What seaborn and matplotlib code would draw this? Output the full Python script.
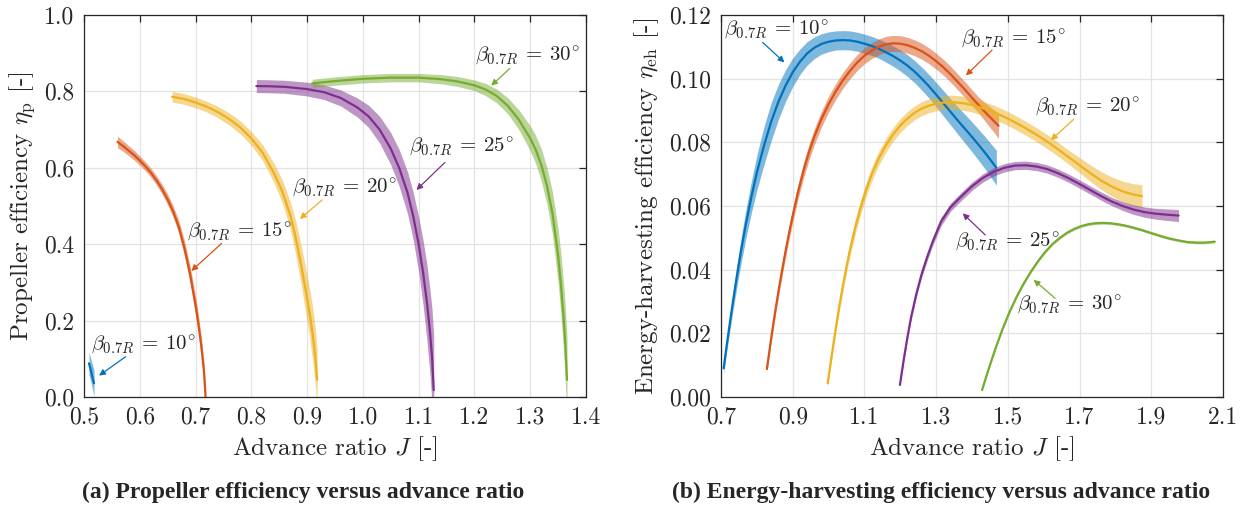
import numpy as np
import pandas as pd
import matplotlib
matplotlib.use("Agg")
import matplotlib.pyplot as plt
import seaborn as sns

# ---------------- data ----------------
pitch_labels = ["10", "15", "20", "25", "30"]
colors = ["#0072BD", "#D95319", "#EDB120", "#7E2F8E", "#77AC30"]

# (a) propeller efficiency eta_p vs J, with half-width of shaded band
J_p10 = [0.509, 0.5135, 0.518]
eta_p10 = [0.088, 0.062, 0.036]
h_p10 = [0.03, 0.03, 0.035]

J_p15 = [0.56, 0.57, 0.58, 0.59, 0.60, 0.61, 0.62, 0.63, 0.64, 0.65, 0.66, 0.67, 0.68, 0.69, 0.70, 0.705, 0.71, 0.715, 0.718]
eta_p15 = [0.668, 0.657, 0.645, 0.633, 0.619, 0.604, 0.587, 0.567, 0.544, 0.517, 0.485, 0.445, 0.390, 0.323, 0.240, 0.192, 0.137, 0.068, 0.0]
h_p15 = [0.015, 0.014, 0.013, 0.013, 0.012, 0.012, 0.012, 0.012, 0.013, 0.014, 0.015, 0.017, 0.02, 0.022, 0.024, 0.025, 0.025, 0.025, 0.025]

J_p20 = [0.658, 0.68, 0.70, 0.72, 0.74, 0.76, 0.78, 0.80, 0.82, 0.84, 0.855, 0.87, 0.88, 0.89, 0.90, 0.905, 0.91, 0.915, 0.918]
eta_p20 = [0.786, 0.780, 0.771, 0.760, 0.746, 0.728, 0.706, 0.677, 0.640, 0.588, 0.540, 0.475, 0.414, 0.340, 0.258, 0.215, 0.165, 0.100, 0.045]
h_p20 = [0.014, 0.014, 0.014, 0.014, 0.015, 0.016, 0.017, 0.018, 0.021, 0.025, 0.03, 0.036, 0.045, 0.052, 0.06, 0.065, 0.07, 0.075, 0.08]

J_p25 = [0.809, 0.83, 0.86, 0.90, 0.93, 0.96, 0.99, 1.01, 1.03, 1.05, 1.065, 1.08, 1.09, 1.10, 1.108, 1.115, 1.12, 1.124, 1.127]
eta_p25 = [0.814, 0.8135, 0.812, 0.806, 0.798, 0.783, 0.758, 0.735, 0.700, 0.650, 0.600, 0.535, 0.475, 0.400, 0.325, 0.245, 0.175, 0.105, 0.018]
h_p25 = [0.017, 0.017, 0.017, 0.018, 0.019, 0.021, 0.025, 0.029, 0.035, 0.042, 0.048, 0.055, 0.062, 0.072, 0.085, 0.10, 0.11, 0.125, 0.14]

J_p30 = [0.909, 0.95, 1.00, 1.05, 1.10, 1.14, 1.17, 1.20, 1.22, 1.24, 1.26, 1.28, 1.30, 1.31, 1.32, 1.33, 1.34, 1.35, 1.355, 1.36, 1.363, 1.366]
eta_p30 = [0.821, 0.827, 0.833, 0.836, 0.836, 0.832, 0.826, 0.816, 0.805, 0.788, 0.762, 0.725, 0.677, 0.647, 0.607, 0.553, 0.480, 0.370, 0.295, 0.205, 0.135, 0.045]
h_p30 = [0.011, 0.011, 0.011, 0.011, 0.011, 0.012, 0.013, 0.014, 0.016, 0.018, 0.021, 0.026, 0.033, 0.037, 0.042, 0.048, 0.056, 0.07, 0.08, 0.09, 0.10, 0.11]

# (b) energy-harvesting efficiency eta_eh vs J
J_e10 = [0.7074, 0.715, 0.725, 0.735, 0.745, 0.756, 0.77, 0.785, 0.80, 0.82, 0.84, 0.86, 0.88, 0.90, 0.92, 0.94, 0.96, 0.98, 1.00, 1.02, 1.04,
         1.06, 1.08, 1.10, 1.12, 1.14, 1.16, 1.18, 1.20, 1.22, 1.24, 1.26, 1.28, 1.30, 1.32, 1.34, 1.36, 1.38, 1.40, 1.42, 1.44, 1.468]
eta_e10 = [0.009, 0.0155, 0.0235, 0.0312, 0.0385, 0.0460, 0.0547, 0.0630, 0.0705, 0.0790, 0.0865, 0.0927, 0.0978, 0.1020, 0.1053, 0.1079,
           0.1097, 0.1109, 0.1116, 0.1120, 0.1121, 0.1120, 0.1116, 0.1110, 0.1103, 0.1094, 0.1083, 0.1071, 0.1057, 0.1041, 0.1022, 0.1000,
           0.0976, 0.0950, 0.0923, 0.0896, 0.0869, 0.0843, 0.0817, 0.0790, 0.0762, 0.0720]
h_e10 = [0.0015, 0.002, 0.0025, 0.003, 0.0035, 0.004, 0.0045, 0.005, 0.0055, 0.006, 0.006, 0.0055, 0.005, 0.0045, 0.004, 0.0037, 0.0034,
         0.0032, 0.0031, 0.003, 0.003, 0.003, 0.003, 0.003, 0.003, 0.003, 0.0031, 0.0032, 0.0033, 0.0034, 0.0035, 0.0036, 0.0037, 0.0038,
         0.004, 0.0041, 0.0043, 0.0045, 0.0047, 0.0049, 0.0051, 0.0055]

J_e15 = [0.828, 0.84, 0.85, 0.86, 0.87, 0.88, 0.89, 0.90, 0.915, 0.93, 0.945, 0.96, 0.98, 1.00, 1.02, 1.04, 1.06, 1.08, 1.10, 1.12, 1.14,
         1.16, 1.18, 1.20, 1.22, 1.24, 1.26, 1.28, 1.30, 1.32, 1.34, 1.36, 1.38, 1.40, 1.42, 1.44, 1.46, 1.474]
eta_e15 = [0.0088, 0.0185, 0.026, 0.033, 0.0396, 0.0458, 0.0516, 0.057, 0.0645, 0.0711, 0.0768, 0.0817, 0.0873, 0.092, 0.096, 0.0995,
           0.1025, 0.1051, 0.1072, 0.1088, 0.11, 0.1108, 0.1111, 0.111, 0.1105, 0.1097, 0.1086, 0.1072, 0.1055, 0.1036, 0.1014, 0.099,
           0.0966, 0.094, 0.0915, 0.0891, 0.0868, 0.0852]
h_e15 = [0.001, 0.0013, 0.0015, 0.0017, 0.0019, 0.002, 0.0021, 0.0022, 0.0023, 0.0024, 0.0025] + [0.0025] * 24 + [0.003, 0.0035, 0.004]

J_e20 = [0.9975, 1.01, 1.02, 1.03, 1.04, 1.05, 1.06, 1.075, 1.09, 1.105, 1.12, 1.14, 1.16, 1.18, 1.20, 1.22, 1.24, 1.26, 1.28, 1.30, 1.32,
         1.34, 1.36, 1.38, 1.40, 1.43, 1.46, 1.49, 1.52, 1.55, 1.58, 1.61, 1.64, 1.67, 1.70, 1.73, 1.76, 1.79, 1.82, 1.85, 1.874]
eta_e20 = [0.0043, 0.014, 0.0215, 0.0286, 0.035, 0.041, 0.0464, 0.0536, 0.0598, 0.0652, 0.0699, 0.075, 0.0791, 0.0825, 0.0853, 0.0875,
           0.0893, 0.0906, 0.0915, 0.0921, 0.0925, 0.0926, 0.0925, 0.0922, 0.0917, 0.0907, 0.0895, 0.088, 0.0863, 0.0844, 0.0824, 0.0802,
           0.0778, 0.0753, 0.0728, 0.0703, 0.068, 0.0661, 0.0646, 0.0636, 0.0631]
h_e20 = [0.001, 0.0013, 0.0015, 0.0017, 0.0019, 0.002, 0.0021] + [0.0022] * 27 + [0.0024, 0.0026, 0.0028, 0.003, 0.0032, 0.0034, 0.0036]

J_e25 = [1.199, 1.21, 1.22, 1.23, 1.245, 1.26, 1.275, 1.29, 1.3136, 1.34, 1.37, 1.40, 1.43, 1.46, 1.49, 1.52, 1.55, 1.58, 1.61, 1.64,
         1.67, 1.70, 1.73, 1.76, 1.79, 1.82, 1.85, 1.88, 1.91, 1.94, 1.976]
eta_e25 = [0.0038, 0.012, 0.0188, 0.025, 0.0325, 0.0388, 0.044, 0.0487, 0.0551, 0.0596, 0.063, 0.0662, 0.0688, 0.0707, 0.072, 0.0727,
           0.0728, 0.0724, 0.0716, 0.0703, 0.0687, 0.0669, 0.065, 0.0631, 0.0614, 0.06, 0.0589, 0.0581, 0.0576, 0.0573, 0.057]
h_e25 = [0.0004, 0.0006, 0.0008, 0.0009, 0.001, 0.0011, 0.0012, 0.0012] + [0.0013] * 17 + [0.0014, 0.0015, 0.0016, 0.0017, 0.0018, 0.0019]

J_e30 = [1.428, 1.445, 1.465, 1.485, 1.505, 1.525, 1.545, 1.565, 1.585, 1.605, 1.625, 1.645, 1.665, 1.685, 1.705, 1.725, 1.745, 1.765,
         1.785, 1.805, 1.825, 1.85, 1.875, 1.90, 1.925, 1.95, 1.975, 2.00, 2.025, 2.05, 2.077]
eta_e30 = [0.0022, 0.0083, 0.0151, 0.0213, 0.0268, 0.0316, 0.0358, 0.0395, 0.0428, 0.0457, 0.0481, 0.05, 0.0516, 0.0528, 0.0537, 0.0543,
           0.0546, 0.0547, 0.0546, 0.0543, 0.0539, 0.0532, 0.0524, 0.0515, 0.0506, 0.0498, 0.0492, 0.0487, 0.0485, 0.0485, 0.0488]
h_e30 = [0.0004] * 31

# annotation anchors: (text x, text y, arrow tail x, tail y, arrow head x, head y)
ann_a = [(0.512, 0.136, 0.5747, 0.1056, 0.527, 0.056),
         (0.684, 0.433, 0.7467, 0.402, 0.6924, 0.33),
         (0.873, 0.548, 0.927, 0.516, 0.887, 0.466),
         (1.0825, 0.655, 1.147, 0.614, 1.096, 0.542),
         (1.201, 0.895, 1.2634, 0.86, 1.23, 0.815)]
ann_b = [(0.709, 0.1153, 0.816, 0.1114, 0.877, 0.1051),
         (1.37, 0.1127, 1.456, 0.109, 1.383, 0.101),
         (1.577, 0.0912, 1.684, 0.0873, 1.62, 0.0807),
         (1.353, 0.0488, 1.437, 0.0509, 1.374, 0.0577),
         (1.5255, 0.0291, 1.632, 0.031, 1.572, 0.0368)]

series_a = [(J_p10, eta_p10, h_p10), (J_p15, eta_p15, h_p15), (J_p20, eta_p20, h_p20),
            (J_p25, eta_p25, h_p25), (J_p30, eta_p30, h_p30)]
series_b = [(J_e10, eta_e10, h_e10), (J_e15, eta_e15, h_e15), (J_e20, eta_e20, h_e20),
            (J_e25, eta_e25, h_e25), (J_e30, eta_e30, h_e30)]

# ---------------- style ----------------
sns.set_style("white")
plt.rcParams["font.family"] = ["cmr10", "DejaVu Serif"]
plt.rcParams["mathtext.fontset"] = "cm"
plt.rcParams["axes.formatter.use_mathtext"] = True
plt.rcParams["axes.unicode_minus"] = False

fig = plt.figure(figsize=(12.45, 5.23), dpi=100)
axA = fig.add_axes([84 / 1245, 1 - 397 / 523, 502 / 1245, 382 / 523])
axB = fig.add_axes([721 / 1245, 1 - 397 / 523, 502 / 1245, 382 / 523])

TXT = "#262626"


def draw(ax, series, anns):
    frames = []
    for lab, (J, e, h) in zip(pitch_labels, series):
        frames.append(pd.DataFrame({"J": J, "eta": e, "lo": np.subtract(e, h),
                                    "hi": np.add(e, h), "pitch": lab}))
    df = pd.concat(frames, ignore_index=True)
    for lab, c in zip(pitch_labels, colors):
        d = df[df["pitch"] == lab]
        ax.fill_between(d["J"], d["lo"], d["hi"], color=c, alpha=0.5, lw=0, zorder=2)
    sns.lineplot(data=df, x="J", y="eta", hue="pitch", palette=colors,
                 sort=False, estimator=None, lw=1.6, legend=False, ax=ax, zorder=3)
    for lab, c, (tx, ty, ax0, ay0, hx, hy) in zip(pitch_labels, colors, anns):
        ax.text(tx, ty, r"$\beta_{0.7R}\:=\:%s^{\circ}$" % lab, fontsize=15,
                color=TXT, va="center", ha="left", zorder=5)
        ax.annotate("", xy=(hx, hy), xytext=(ax0, ay0),
                    arrowprops=dict(arrowstyle="-|>", color=c, lw=0.9,
                                    mutation_scale=9, shrinkA=0, shrinkB=0),
                    zorder=5)


draw(axA, series_a, ann_a)
draw(axB, series_b, ann_b)

for ax in (axA, axB):
    ax.grid(True, color="#e3e3e3", lw=0.9)
    ax.set_axisbelow(True)
    ax.tick_params(direction="in", top=True, right=True, length=5, width=0.9,
                   colors=TXT, labelsize=17, pad=7)
    for s in ax.spines.values():
        s.set_color(TXT)
        s.set_linewidth(0.9)

xa = np.arange(0.5, 1.41, 0.1)
ya = np.arange(0.0, 1.01, 0.2)
axA.set_xlim(0.5, 1.4)
axA.set_ylim(0.0, 1.0)
axA.set_xticks(xa)
axA.set_yticks(ya)
axA.set_xticklabels(["%.1f" % v for v in xa])
axA.set_yticklabels(["%.1f" % v for v in ya])
axA.set_xlabel(r"Advance ratio $J$ [-]", fontsize=18, color=TXT, labelpad=4)
axA.set_ylabel(r"Propeller efficiency $\eta_{\mathrm{p}}$ [-]", fontsize=18, color=TXT, labelpad=5)

xb = np.arange(0.7, 2.11, 0.2)
yb = np.arange(0.0, 0.121, 0.02)
axB.set_xlim(0.7, 2.1)
axB.set_ylim(0.0, 0.12)
axB.set_xticks(xb)
axB.set_yticks(yb)
axB.set_xticklabels(["%.1f" % v for v in xb])
axB.set_yticklabels(["%.2f" % v for v in yb])
axB.set_xlabel(r"Advance ratio $J$ [-]", fontsize=18, color=TXT, labelpad=4)
axB.set_ylabel(r"Energy-harvesting efficiency $\eta_{\mathrm{eh}}$ [-]", fontsize=18, color=TXT, labelpad=6)

cap_font = ["Liberation Serif", "DejaVu Serif"]
fig.text(303 / 1245, 1 - 492 / 523, "(a) Propeller efficiency versus advance ratio",
         ha="center", va="center", fontsize=17, fontweight="bold", family=cap_font)
fig.text(941 / 1245, 1 - 492 / 523, "(b) Energy-harvesting efficiency versus advance ratio",
         ha="center", va="center", fontsize=17, fontweight="bold", family=cap_font)

fig.savefig("out.png", dpi=100)
